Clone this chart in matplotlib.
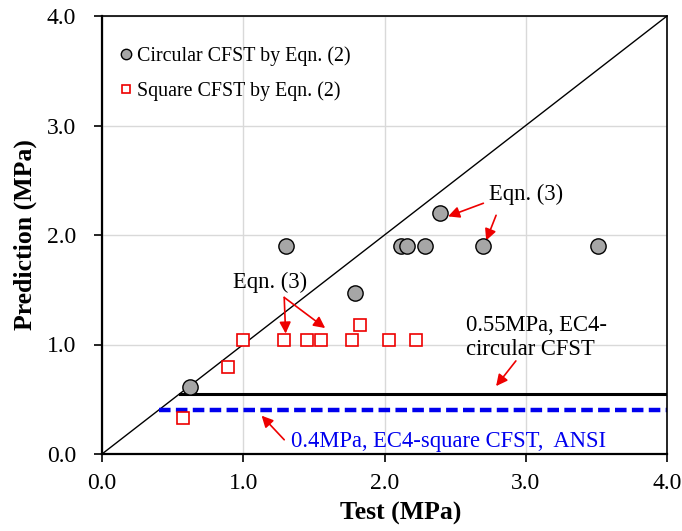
import matplotlib
matplotlib.use("Agg")
import matplotlib.pyplot as plt

plt.rcParams['font.family'] = ['Liberation Serif', 'DejaVu Serif']

# Circular CFST, Eqn. (2)
circ_test = [0.62, 1.30, 1.79, 2.12, 2.16, 2.29, 2.39, 2.70, 3.51]
circ_pred = [0.61, 1.90, 1.47, 1.90, 1.90, 1.90, 2.20, 1.90, 1.90]

# Square CFST, Eqn. (2)
sq_test = [0.57, 0.89, 1.00, 1.29, 1.45, 1.55, 1.77, 1.83, 2.03, 2.22]
sq_pred = [0.33, 0.79, 1.04, 1.04, 1.04, 1.04, 1.04, 1.18, 1.04, 1.04]

# Code limits (MPa)
ec4_circ = 0.55
ec4_sq = 0.4

ticks = [0.0, 1.0, 2.0, 3.0, 4.0]
tick_labels = ["0.0", "1.0", "2.0", "3.0", "4.0"]

fig = plt.figure(figsize=(6.82, 5.31), dpi=100)
ax = fig.add_axes([102 / 682, 77 / 531, 565 / 682, 438 / 531])

ax.set_xlim(0, 4)
ax.set_ylim(0, 4)
ax.set_xticks(ticks)
ax.set_yticks(ticks)
ax.set_xticklabels(tick_labels, fontsize=17)
ax.set_yticklabels(tick_labels, fontsize=17)
ax.tick_params(direction='out', length=6, width=1.2)
ax.tick_params(axis='x', pad=8)
ax.tick_params(axis='y', pad=12.5)
ax.grid(True, color='#d9d9d9', linewidth=1.0)
ax.set_axisbelow(True)
for s in ax.spines.values():
    s.set_linewidth(1.2)
ax.spines['left'].set_linewidth(1.6)
ax.spines['bottom'].set_linewidth(1.6)

# 1:1 line
ax.plot([0, 4], [0, 4], color='black', linewidth=1.0, zorder=2)

# code limit lines
ax.plot([ec4_circ, 4], [ec4_circ, ec4_circ], color='black', linewidth=2.2, zorder=2)
ax.plot([ec4_sq, 4], [ec4_sq, ec4_sq], color='#0000ee', linewidth=3.2,
        linestyle=(0, (2.6, 1.2)), zorder=2)

ax.plot(circ_test, circ_pred, linestyle='none', marker='o', markersize=11,
        markerfacecolor='#a6a6a6', markeredgecolor='black', markeredgewidth=1.0,
        label='Circular CFST by Eqn. (2)', zorder=4)
ax.plot(sq_test, sq_pred, linestyle='none', marker='s', markersize=9.3,
        markerfacecolor='white', markeredgecolor='#ee0000', markeredgewidth=1.2,
        label='Square CFST by Eqn. (2)', zorder=4)

ax.legend(loc='upper left', bbox_to_anchor=(0.014, 0.95), frameon=False,
          fontsize=14.4, markerscale=0.68, handlelength=0.8,
          handletextpad=0.15, labelspacing=0.78, borderaxespad=0.0)

ax.set_xlabel('Test (MPa)', fontsize=18.5, fontweight='bold')
ax.set_ylabel('Prediction (MPa)', fontsize=18.5, fontweight='bold')
ax.xaxis.set_label_coords(0.529, -0.11)
ax.yaxis.set_label_coords(-0.115, 0.5)

arrow = dict(arrowstyle='-|>', color='#ee0000', lw=1.2, mutation_scale=17,
             shrinkA=0, shrinkB=0)
txt = 16.3

# Eqn. (3) labels - square section
ax.text(1.19, 1.57, 'Eqn. (3)', fontsize=txt, ha='center', va='center')
ax.annotate('', xy=(1.30, 1.10), xytext=(1.29, 1.43), arrowprops=arrow)
ax.annotate('', xy=(1.58, 1.15), xytext=(1.29, 1.43), arrowprops=arrow)

# Eqn. (3) labels - circular section
ax.text(3.0, 2.37, 'Eqn. (3)', fontsize=txt, ha='center', va='center')
ax.annotate('', xy=(2.45, 2.17), xytext=(2.70, 2.29), arrowprops=arrow)
ax.annotate('', xy=(2.72, 1.95), xytext=(2.79, 2.18), arrowprops=arrow)

# EC4 circular limit
ax.text(2.58, 1.065, '0.55MPa, EC4-\ncircular CFST', fontsize=txt,
        ha='left', va='center', linespacing=1.17)
ax.annotate('', xy=(2.79, 0.62), xytext=(2.93, 0.85), arrowprops=arrow)

# EC4 square / ANSI limit
ax.text(1.34, 0.11, '0.4MPa, EC4-square CFST,  ANSI', fontsize=txt,
        color='#0000ee', ha='left', va='center')
ax.annotate('', xy=(1.13, 0.35), xytext=(1.29, 0.13), arrowprops=arrow)

fig.savefig('out.png', dpi=100)
